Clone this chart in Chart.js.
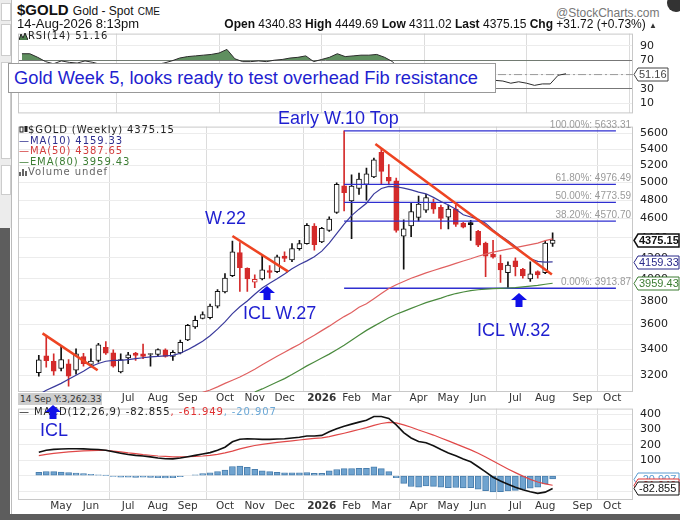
<!DOCTYPE html>
<html>
<head>
<meta charset="utf-8">
<title>$GOLD weekly</title>
<script src="https://cdn.jsdelivr.net/npm/chart.js@4.4.1/dist/chart.umd.min.js"></script>
<style>
  html, body { margin: 0; padding: 0; }
  body { width: 680px; height: 520px; position: relative; overflow: hidden; background: #fff;
         font-family: "Liberation Sans", Arial, sans-serif; }
  .a { position: absolute; white-space: nowrap; }
  canvas { position: absolute; }
  .leg { font: 10px "DejaVu Sans"; letter-spacing: 0.9px; line-height: 10.5px; }
  .note { color: #1f1fd0; font-size: 18px; line-height: 20px; }
  .nar { font-family: "Liberation Sans Narrow", "Liberation Sans", Arial, sans-serif; }
</style>
</head>
<body>

<!-- frame around the screenshot -->
<div class="a" style="left:0;top:0;width:11px;height:228px;background:#ececec"></div>
<div class="a" style="left:1px;top:3px;width:8px;height:16px;background:#fff;border:1px solid #ccc"></div>
<div class="a" style="left:1px;top:24px;width:8px;height:30px;background:#fff;border:1px solid #ccc"></div>
<div class="a" style="left:1px;top:62px;width:8px;height:95px;background:#fff;border:1px solid #ccc"></div>
<div class="a" style="left:1px;top:165px;width:8px;height:28px;background:#fff;border:1px solid #ccc"></div>
<div class="a" style="left:0;top:228px;width:10px;height:292px;background:#5d5d5d"></div>
<div class="a" style="left:11px;top:0;width:1px;height:514px;background:#bbb"></div>
<div class="a" style="left:0;top:514px;width:680px;height:6px;background:#5d5d5d"></div>
<div class="a" style="left:667px;top:-6px;width:18px;height:18px;border-radius:50%;background:#333"></div>

<canvas id="rsiChart" width="666" height="107" style="left:14px;top:20px"></canvas>
<canvas id="priceChart" width="666" height="297" style="left:14px;top:113px"></canvas>
<canvas id="macdChart" width="666" height="119" style="left:14px;top:395px"></canvas>

<!-- header -->
<div class="a nar" style="left:17px;top:1px;font-weight:bold;font-size:15px;color:#111">$GOLD
  <span style="font-weight:normal;font-size:12px">Gold - Spot</span>
  <span style="font-weight:normal;font-size:10px">CME</span></div>
<div class="a nar" style="left:556px;top:6px;font-size:12px;color:#777">@StockCharts.com</div>
<div class="a nar" style="left:17px;top:16px;font-size:13px;color:#111">14-Aug-2026 8:13pm</div>
<div class="a nar" style="right:23px;top:17px;font-size:12px;color:#111">
  <b>Open</b> 4340.83 <b>High</b> 4449.69 <b>Low</b> 4311.02 <b>Last</b> 4375.15
  <b>Chg</b> +31.72 (+0.73%) <span style="font-size:8px;color:#333">&#9650;</span></div>

<!-- RSI label -->
<div class="a leg" style="left:19px;top:31px;color:#222">
  <svg width="9" height="8" style="vertical-align:-1px"><polyline points="0,8 2,2 4,6 6,1 9,8" fill="#4f7f4f" stroke="#222" stroke-width="1"/></svg>RSI(14) 51.16</div>

<!-- comment box -->
<div class="a note" style="left:8px;top:63px;width:481px;height:28px;line-height:28px;padding-left:5px;background:#fff;border:1px solid #999;font-size:18.3px">Gold Week 5, looks ready to test overhead Fib resistance</div>

<!-- price legend -->
<div class="a leg" style="left:19px;top:125px">
  <div style="color:#222"><svg width="9" height="9" style="vertical-align:-1px"><rect x="1" y="2" width="3" height="5" fill="#fff" stroke="#222"/><rect x="5.5" y="1" width="3" height="6" fill="#222"/></svg>$GOLD (Weekly) 4375.15</div>
  <div style="color:#2e2e8e">&#8212;MA(10) 4159.33</div>
  <div style="color:#d23c3c">&#8212;MA(50) 4387.65</div>
  <div style="color:#3c7d33">&#8212;EMA(80) 3959.43</div>
  <div style="color:#666"><svg width="9" height="8" style="vertical-align:-1px"><rect x="0" y="4" width="2" height="4" fill="#666"/><rect x="3" y="1" width="2" height="7" fill="#666"/><rect x="6" y="3" width="2" height="5" fill="#666"/></svg>Volume undef</div>
</div>

<!-- crosshair readout under the price panel -->
<div class="a" style="left:18px;top:393px;width:84px;height:12px;background:#cdcdcd;font:9px 'DejaVu Sans';line-height:12px;color:#333;padding-left:2px;box-sizing:border-box">14 Sep Y:3,262.33</div>

<!-- MACD legend -->
<div class="a leg" style="left:19px;top:407px;color:#222">&#8212; MACD(12,26,9) -82.855<span style="color:#e03030">, -61.949</span><span style="color:#6aa7d6">, -20.907</span></div>

<!-- annotations -->
<div class="a note" style="left:278px;top:108px">Early W.10 Top</div>
<div class="a note" style="left:205px;top:208px">W.22</div>
<div class="a note" style="left:243px;top:303px">ICL W.27</div>
<div class="a note" style="left:477px;top:320px">ICL W.32</div>
<div class="a note" style="left:40px;top:420px">ICL</div>
<svg class="a" style="left:259px;top:286px" width="16" height="14"><polygon points="8,0 16,7 11.5,7 11.5,14 4.5,14 4.5,7 0,7" fill="#1010e8"/></svg>
<svg class="a" style="left:511px;top:293px" width="16" height="14"><polygon points="8,0 16,7 11.5,7 11.5,14 4.5,14 4.5,7 0,7" fill="#1010e8"/></svg>
<svg class="a" style="left:45px;top:405px" width="16" height="14"><polygon points="8,0 16,7 11.5,7 11.5,14 4.5,14 4.5,7 0,7" fill="#1010e8"/></svg>

<script>
// weekly bars, Monday of each week
const weeks = [
  '2025-04-14','2025-04-21','2025-04-28','2025-05-05','2025-05-12','2025-05-19','2025-05-26',
  '2025-06-02','2025-06-09','2025-06-16','2025-06-23','2025-06-30','2025-07-07','2025-07-14',
  '2025-07-21','2025-07-28','2025-08-04','2025-08-11','2025-08-18','2025-08-25','2025-09-01',
  '2025-09-08','2025-09-15','2025-09-22','2025-09-29','2025-10-06','2025-10-13','2025-10-20',
  '2025-10-27','2025-11-03','2025-11-10','2025-11-17','2025-11-24','2025-12-01','2025-12-08',
  '2025-12-15','2025-12-22','2025-12-29','2026-01-05','2026-01-12','2026-01-19','2026-01-26',
  '2026-02-02','2026-02-09','2026-02-16','2026-02-23','2026-03-02','2026-03-09','2026-03-16',
  '2026-03-23','2026-03-30','2026-04-06','2026-04-13','2026-04-20','2026-04-27','2026-05-04',
  '2026-05-11','2026-05-18','2026-05-25','2026-06-01','2026-06-08','2026-06-15','2026-06-22',
  '2026-06-29','2026-07-06','2026-07-13','2026-07-20','2026-07-27','2026-08-03','2026-08-10'
];
const open = [3218,3347,3304,3250,3286,3237,3342,3281,3311,3414, 3370,3225,3331,3368,3362,3357,3357,3393,3342,3370,
  3472,3578,3650,3656,3755,3880,4030,4251,4098,3970, 4000,4076,4067,4217,4180,4290,4340,4520,4356,4474,
  4665,4960,4790,4930,4977,5065,5360,5060,5020,4415, 4520,4610,4690,4772,4720,4615,4700,4550,4555,4465,
  4345,4235,4145,4058,4170,4090,3998,4067,4058,4340.83];
const high = [3350,3498,3362,3427,3318,3401,3367,3401,3445,3460, 3393,3362,3375,3375,3440,3364,3401,3401,3388,3472,
  3600,3670,3706,3772,3902,4050,4366,4350,4104,4037, 4232,4124,4226,4258,4340,4373,4545,4545,4507,4618,
  4996,5633.31,5090,5110,5170,5290,5400,5210,5050,4585, 4772,4845,4865,4810,4745,4745,4745,4560,4580,4475,
  4356,4373,4226,4161,4200,4098,4161,4075,4366,4449.69];
const low = [3193,3261,3201,3232,3120,3208,3267,3261,3298,3357, 3261,3217,3286,3311,3324,3267,3342,3336,3311,3362,
  3466,3567,3645,3645,3740,3871,4021,3886,3886,3920, 3990,4005,4058,4161,4161,4274,4335,4274,4350,4464,
  4655,4680,4390,4864,4800,5055,4985,4985,4457,4090, 4410,4570,4665,4655,4490,4490,4515,4500,4373,4310,
  4021,4195,3967,3913.87,4028,4005,3976,4005,4048,4311.02];
const close = [3316,3310,3230,3318,3193,3362,3286,3306,3434,3367, 3267,3318,3354,3350,3342,3362,3396,3342,3375,3453,
  3592,3634,3683,3755,3886,4006,4258,4104,4000,3995, 4083,4060,4210,4193,4290,4340,4527,4330,4497,4593,
  4977,4883,4958,5040,5100,5270,5130,5015,4475,4490, 4675,4755,4828,4700,4600,4700,4537,4507,4535,4325,
  4215,4205,4083,4130,4115,4028,4047,4037,4345,4375.15];

const ma10 = [3060,3090,3115,3140,3170,3200,3230,3265,3288,3305, 3312,3312,3318,3325,3332,3338,3342,3346,3350,3367,
  3395,3427,3462,3506,3560,3620,3690,3750,3800,3860, 3915,3960,4000,4045,4095,4135,4170,4210,4265,4345,
  4440,4540,4630,4700,4765,4870,4930,4955,4950,4935, 4915,4890,4870,4830,4785,4745,4700,4640,4615,4590,
  4550,4480,4420,4370,4310,4250,4190,4165,4158,4159.33];
const ma50From = 20;
const ma50 = [3040,3060,3075,3092,3115,3140,3163,3187,3215,3245, 3278,3311,3343,3375,3407,3438,3475,3510,3548,3585,
  3625,3665,3700,3745,3775,3820,3866,3912,3945,3975, 4005,4030,4055,4078,4100,4122,4145,4168,4190,4215,
  4235,4255,4270,4285,4300,4315,4330,4345,4370,4387.65];
const ema80From = 29;
const ema80 = [3078,3100,3125,3150,3175,3205,3237,3270,3300,3330, 3360,3395,3430,3470,3510,3550,3585,3620,3655,3685,
  3710,3735,3760,3785,3805,3825,3848,3866,3880,3893, 3900,3906,3910,3913,3916,3920,3926,3933,3940,3950, 3959.43];

const rsi = [79,79,74,68,65,69,67,66,69,67, 64,64,65,64,63,63,65,64,66,69, 73,75,76,77,78,80,85,72,68,68,
  69,68,70,71,73,74,76,68,71,74, 79,75,76,77,77,78,74,68,55,56, 59,61,62,59,55,57,52,50,51,46,
  42,41,38,40,38,35,37,37,49,51.16];

const macd = [152,165,171,173,175,175,174,172,170,165, 155,146,138,132,128,122,115,110,109,115,
  123,132,141,150,165,185,220,237,240,238, 236,236,238,240,245,250,258,258,262,285,
  305,322,335,348,360,385,385,372,330,280, 245,222,214,195,170,148,130,108,90,58,
  25,-10,-35,-55,-75,-92,-105,-115,-107,-82.855];
const signal = [130,138,145,150,155,158,161,163,165,164, 160,155,148,143,137,133,128,125,122,122,
  123,126,128,132,138,148,160,174,186,196, 204,210,216,221,226,232,238,242,246,254,
  265,276,288,300,312,327,339,346,343,330, 315,297,281,264,245,226,207,187,168,146,
  122,95,69,44,20,-3,-24,-41,-53,-61.949];
const hist = [22,27,26,23,20,17,13,9,5,1, -5,-9,-10,-11,-9,-11,-13,-15,-13,-7,
  0,6,13,18,27,37,60,63,54,42, 32,26,22,19,19,18,20,16,16,31,
  40,46,47,48,48,58,46,26,-13,-50, -70,-75,-67,-69,-75,-78,-77,-79,-78,-88,
  -97,-105,-104,-99,-95,-89,-81,-74,-54,-20.907];

// axis ticks (index into weeks, extended into the empty future weeks)
const monthIdx = [3,7,12,16,20,25,29,33,38,42,46,51,55,59,64,68,73,77];
const monthLab = ['May','Jun','Jul','Aug','Sep','Oct','Nov','Dec','2026','Feb','Mar','Apr','May','Jun','Jul','Aug','Sep','Oct'];
const quarterIdx = [12,25,38,51,64,77];
const priceTicks = [3200,3400,3600,3800,4000,4200,4400,4600,4800,5000,5200,5400,5600];
const rsiTicks = [10,30,50,70,90];
const macdTicks = [-100,0,100,200,300,400];

// fib retracement from the W.10 top to the W.32 low
const fibFrom = 41;
const fibLevels = [5633.31, 4976.49, 4773.59, 4570.70, 3913.87];
const fibNames = ['100.00%', '61.80%', '50.00%', '38.20%', '0.00%'];
// hand drawn trend lines [[week, price], [week, price]]
const trendLines = [
  [[0.5, 3525], [7.9, 3237]],
  [[26, 4417], [33.5, 4067]],
  [[45.2, 5465], [68.9, 4040]]
];

const X_MIN = -0.5, X_MAX = 77.5;
const UP = '#111', DOWN = '#d42b2b';
Chart.defaults.font.family = 'DejaVu Sans';

function tone(i) {
  const prev = i > 0 ? close[i - 1] : open[i];
  return close[i] < prev ? DOWN : UP;
}

function xAxis(showLabels, h) {
  return {
    type: 'linear', min: X_MIN, max: X_MAX,
    afterBuildTicks: s => { s.ticks = monthIdx.map(v => ({ value: v })); },
    afterFit: s => { s.height = h; },
    border: { display: false },
    grid: { drawTicks: false, color: c => (c.tick && quarterIdx.includes(c.tick.value)) ? '#dcdcdc' : 'rgba(0,0,0,0)' },
    ticks: {
      display: showLabels, autoSkip: false, maxRotation: 0, padding: 0, color: '#333',
      font: c => ({ family: 'DejaVu Sans', size: 10.5, weight: (c.tick && c.tick.value === 38) ? 'bold' : 'normal' }),
      callback: v => monthLab[monthIdx.indexOf(v)] || ''
    }
  };
}

const framePlugin = {
  id: 'frame',
  beforeDatasetsDraw(chart) {
    const a = chart.chartArea, ctx = chart.ctx;
    ctx.save();
    ctx.strokeStyle = '#c8c8c8';
    ctx.lineWidth = 1;
    ctx.strokeRect(a.left + 0.5, a.top + 0.5, a.right - a.left - 1, a.bottom - a.top - 1);
    ctx.restore();
  }
};

// value boxes on the right axis
const calloutPlugin = {
  id: 'callouts',
  afterDraw(chart, args, opts) {
    const ctx = chart.ctx, ys = chart.scales.y, x0 = chart.chartArea.right + 1;
    (opts.items || []).forEach(it => {
      const py = Math.round(ys.getPixelForValue(it.v)) + 0.5, h = 13, w = it.w;
      ctx.save();
      ctx.beginPath();
      ctx.moveTo(x0, py);
      ctx.lineTo(x0 + 4, py - h / 2);
      ctx.lineTo(x0 + 4 + w, py - h / 2);
      ctx.lineTo(x0 + 4 + w, py + h / 2);
      ctx.lineTo(x0 + 4, py + h / 2);
      ctx.closePath();
      ctx.fillStyle = '#fff';
      ctx.fill();
      ctx.strokeStyle = it.color;
      ctx.lineWidth = it.bold ? 1.5 : 1;
      ctx.stroke();
      ctx.fillStyle = it.color;
      ctx.font = (it.bold ? 'bold ' : '') + '11px "Liberation Sans"';
      ctx.textBaseline = 'middle';
      ctx.fillText(it.text, x0 + 5, py + 0.5);
      ctx.restore();
    });
  }
};

const fibLabelPlugin = {
  id: 'fibLabels',
  afterDatasetsDraw(chart) {
    const ctx = chart.ctx, ys = chart.scales.y, r = chart.chartArea.right - 2;
    ctx.save();
    ctx.font = '10px "Liberation Sans"';
    ctx.fillStyle = '#9a9a9a';
    ctx.textAlign = 'right';
    ctx.textBaseline = 'bottom';
    fibLevels.forEach((v, k) => {
      ctx.fillText(fibNames[k] + ': ' + v.toFixed(2), r, ys.getPixelForValue(v) - 1);
    });
    ctx.restore();
  }
};

const base = {
  responsive: false, animation: false, events: [],
  plugins: { legend: { display: false }, tooltip: { enabled: false } }
};

// ---- price panel
const priceSets = [
  { type: 'bar', data: weeks.map((w, i) => ({ x: i, y: [low[i], high[i]] })),
    backgroundColor: c => tone(c.dataIndex || 0), barThickness: 1, grouped: false, order: 5 },
  { type: 'bar', data: weeks.map((w, i) => ({ x: i, y: [open[i], close[i]] })),
    backgroundColor: c => { const i = c.dataIndex || 0; return close[i] >= open[i] ? '#fff' : tone(i); },
    borderColor: c => tone(c.dataIndex || 0), borderWidth: 1, borderSkipped: false,
    barThickness: 5, minBarLength: 1, grouped: false, order: 4 },
  { type: 'line', data: ma10.map((v, i) => ({ x: i, y: v })), borderColor: '#3a3a9c', borderWidth: 1.2, pointRadius: 0, order: 1 },
  { type: 'line', data: ma50.map((v, k) => ({ x: ma50From + k, y: v })), borderColor: '#e06060', borderWidth: 1.2, pointRadius: 0, order: 1 },
  { type: 'line', data: ema80.map((v, k) => ({ x: ema80From + k, y: v })), borderColor: '#4a8a3e', borderWidth: 1.2, pointRadius: 0, order: 1 }
];
fibLevels.forEach(v => priceSets.push({
  type: 'line', data: [{ x: fibFrom, y: v }, { x: X_MAX, y: v }],
  borderColor: '#2f2fd0', borderWidth: 1.3, pointRadius: 0, order: 3
}));
trendLines.forEach(t => priceSets.push({
  type: 'line', data: t.map(p => ({ x: p[0], y: p[1] })),
  borderColor: '#ee4422', borderWidth: 2.6, pointRadius: 0, order: 0
}));

new Chart('priceChart', {
  type: 'bar',
  data: { datasets: priceSets },
  options: Object.assign({}, base, {
    layout: { padding: { left: 4, top: 10, right: 0, bottom: 0 } },
    scales: {
      x: xAxis(true, 18),
      y: {
        type: 'logarithmic', position: 'right', min: 3078, max: 5690,
        afterBuildTicks: s => { s.ticks = priceTicks.map(v => ({ value: v })); },
        afterFit: s => { s.width = 47; },
        border: { display: false },
        grid: { drawTicks: false, color: '#ececec' },
        ticks: { padding: 7, color: '#222', font: { size: 11 }, callback: v => String(v) }
      }
    },
    plugins: Object.assign({}, base.plugins, {
      callouts: { items: [
        { v: 4159.33, text: '4159.33', color: '#2a2a8a', w: 41 },
        { v: 3959.43, text: '3959.43', color: '#3c7d33', w: 41 },
        { v: 4375.15, text: '4375.15', color: '#111', w: 41, bold: true }
      ] }
    })
  }),
  plugins: [framePlugin, fibLabelPlugin, calloutPlugin]
});

// ---- RSI panel
new Chart('rsiChart', {
  type: 'line',
  data: { datasets: [
    { data: rsi.map((v, i) => ({ x: i, y: v })), borderColor: '#2b2b2b', borderWidth: 1, pointRadius: 0,
      fill: { target: { value: 70 }, above: '#5f8f5f', below: 'rgba(0,0,0,0)' } },
    { data: [{ x: X_MIN, y: 50 }, { x: X_MAX, y: 50 }], borderColor: '#999', borderWidth: 1,
      borderDash: [8, 3, 2, 3], pointRadius: 0 }
  ] },
  options: Object.assign({}, base, {
    layout: { padding: { left: 4, top: 10, right: 0, bottom: 7 } },
    scales: {
      x: xAxis(false, 0),
      y: {
        position: 'right', min: -4, max: 107,
        afterBuildTicks: s => { s.ticks = rsiTicks.map(v => ({ value: v })); },
        afterFit: s => { s.width = 47; },
        border: { display: false },
        grid: { drawTicks: false, color: c => (c.tick && (c.tick.value === 70 || c.tick.value === 30)) ? '#777' : '#ececec' },
        ticks: { padding: 7, color: '#222', font: { size: 11 }, callback: v => v === 50 ? '' : String(v) }
      }
    },
    plugins: Object.assign({}, base.plugins, {
      callouts: { items: [{ v: 51.16, text: '51.16', color: '#444', w: 30 }] }
    })
  }),
  plugins: [framePlugin, calloutPlugin]
});

// ---- MACD panel
new Chart('macdChart', {
  type: 'bar',
  data: { datasets: [
    { type: 'bar', data: hist.map((v, i) => ({ x: i, y: v })), backgroundColor: '#6fa3cf', borderColor: '#4a7fae',
      borderWidth: 1, borderSkipped: false, barThickness: 6, order: 3 },
    { type: 'line', data: signal.map((v, i) => ({ x: i, y: v })), borderColor: '#e04848', borderWidth: 1.2, pointRadius: 0, order: 1 },
    { type: 'line', data: macd.map((v, i) => ({ x: i, y: v })), borderColor: '#111', borderWidth: 1.6, pointRadius: 0, order: 0 }
  ] },
  options: Object.assign({}, base, {
    layout: { padding: { left: 4, top: 10, right: 0, bottom: 0 } },
    scales: {
      x: xAxis(true, 14),
      y: {
        position: 'right', min: -158, max: 436,
        afterBuildTicks: s => { s.ticks = macdTicks.map(v => ({ value: v })); },
        afterFit: s => { s.width = 47; },
        border: { display: false },
        grid: { drawTicks: false, color: '#ececec' },
        ticks: { padding: 7, color: '#222', font: { size: 11 }, callback: v => v > 0 ? String(v) : '' }
      }
    },
    plugins: Object.assign({}, base.plugins, {
      callouts: { items: [
        { v: -20.907, text: '-20.907', color: '#5a9bd0', w: 41 },
        { v: -61.949, text: '-61.949', color: '#e03030', w: 41 },
        { v: -82.855, text: '-82.855', color: '#111', w: 41 }
      ] }
    })
  }),
  plugins: [framePlugin, calloutPlugin]
});
</script>
</body>
</html>
